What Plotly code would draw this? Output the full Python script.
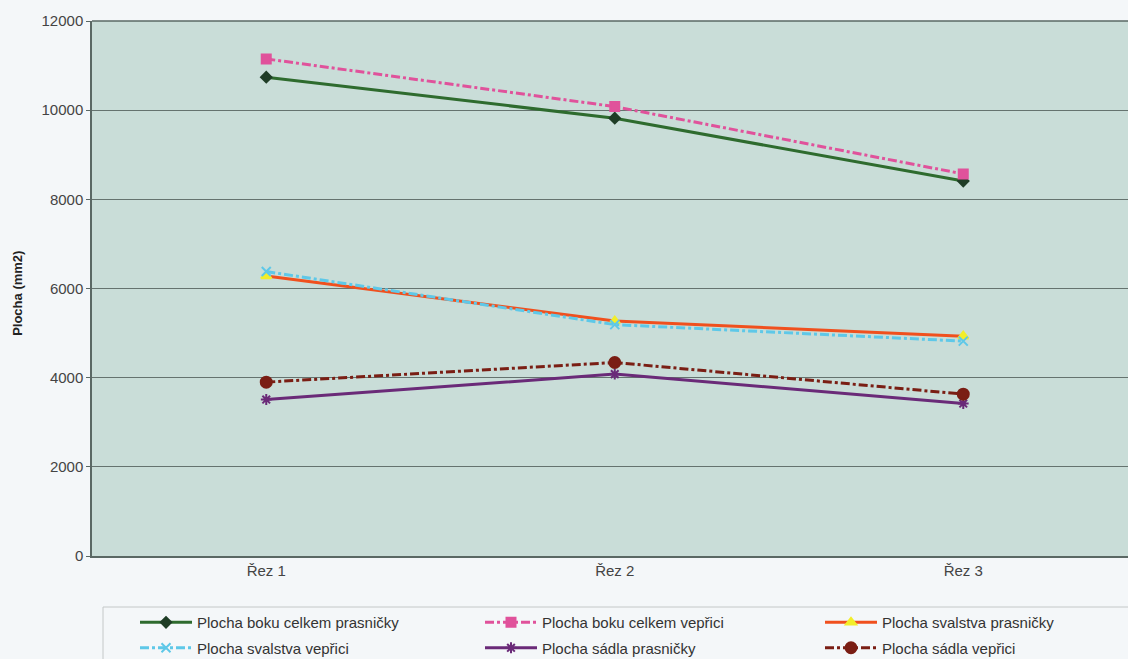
import plotly.graph_objects as go

# Section positions along the carcass
rezy = ["Řez 1", "Řez 2", "Řez 3"]

# Areas in mm2
bok_prasnicky = [10740, 9820, 8410]
bok_veprici = [11150, 10080, 8570]
svalstvo_prasnicky = [6280, 5270, 4930]
svalstvo_veprici = [6380, 5190, 4820]
sadlo_prasnicky = [3510, 4080, 3420]
sadlo_veprici = [3900, 4340, 3630]

# name, values, line colour, dash, marker symbol, marker colour, marker size, legend column
series = [
    ("Plocha boku celkem prasničky", bok_prasnicky, "#2e6b2e", "solid", "diamond", "#1f3d26", 8, "legend"),
    ("Plocha boku celkem vepřici", bok_veprici, "#e0529b", "dashdot", "square", "#e0529b", 9, "legend2"),
    ("Plocha svalstva prasničky", svalstvo_prasnicky, "#f0501e", "solid", "triangle-up", "#f2ee2a", 9, "legend3"),
    ("Plocha svalstva vepřici", svalstvo_veprici, "#5ec8e8", "dashdot", "x-thin", "#5ec8e8", 9, "legend"),
    ("Plocha sádla prasničky", sadlo_prasnicky, "#6a2a78", "solid", "asterisk", "#6a2a78", 9, "legend2"),
    ("Plocha sádla vepřici", sadlo_veprici, "#7a1e14", "dashdot", "circle", "#7a1e14", 11, "legend3"),
]

fig = go.Figure()
for i, (name, vals, color, dash, symbol, mcolor, msize, leg) in enumerate(series):
    fig.add_trace(go.Scatter(
        x=rezy, y=vals, name=name, mode="lines+markers", legend=leg,
        legendgroup=f"g{i}",
        line=dict(color=color, width=3, dash=dash),
        marker=dict(symbol=symbol, size=msize, color=mcolor,
                    line=dict(color=mcolor, width=2)),
    ))

legend_common = dict(
    orientation="v", xref="container", yref="container",
    y=0.0804, xanchor="left", yanchor="top",
    bgcolor="rgba(0,0,0,0)", borderwidth=0,
    font=dict(size=15, color="#333333"), itemwidth=52, tracegroupgap=3,
)

fig.update_layout(
    width=1128, height=659,
    paper_bgcolor="#f4f7f9",
    plot_bgcolor="#c9ddd8",
    margin=dict(l=92, r=0, t=21, b=103, autoexpand=False),
    font=dict(family="Liberation Sans, Arial, sans-serif", size=15, color="#444444"),
    xaxis=dict(
        type="category", range=[-0.5, 2.4727], automargin=False,
        showgrid=False, ticks="", showline=True, linecolor="#5a6864", linewidth=1.5,
        tickfont=dict(size=15, color="#444444"),
    ),
    yaxis=dict(
        range=[0, 12000], dtick=2000, tickformat="d", automargin=False,
        showgrid=True, gridcolor="#65736f", gridwidth=1,
        showline=True, linecolor="#5a6864", linewidth=1.5,
        zeroline=False, ticks="outside", ticklen=4, tickcolor="#5a6864",
        tickfont=dict(size=15, color="#444444"),
    ),
    legend=dict(x=135 / 1128, **legend_common),
    legend2=dict(x=480 / 1128, **legend_common),
    legend3=dict(x=820 / 1128, **legend_common),
    annotations=[
        dict(text="<b>Plocha (mm2)</b>", textangle=-90, showarrow=False,
             xref="paper", yref="paper", x=-74 / 1036, y=0.49,
             xanchor="center", yanchor="middle",
             font=dict(size=13, color="#222222")),
    ],
    shapes=[
        dict(type="line", xref="paper", yref="paper", x0=0, x1=1, y0=1, y1=1,
             line=dict(color="#5a6864", width=1.5)),
        # frame around the legend area
        dict(type="rect", xref="paper", yref="paper",
             x0=11 / 1036, x1=1.05, y0=-0.25, y1=-51 / 535,
             line=dict(color="#c4c8c8", width=1), fillcolor="rgba(0,0,0,0)", layer="below"),
    ],
)

fig.write_html("out.html")
